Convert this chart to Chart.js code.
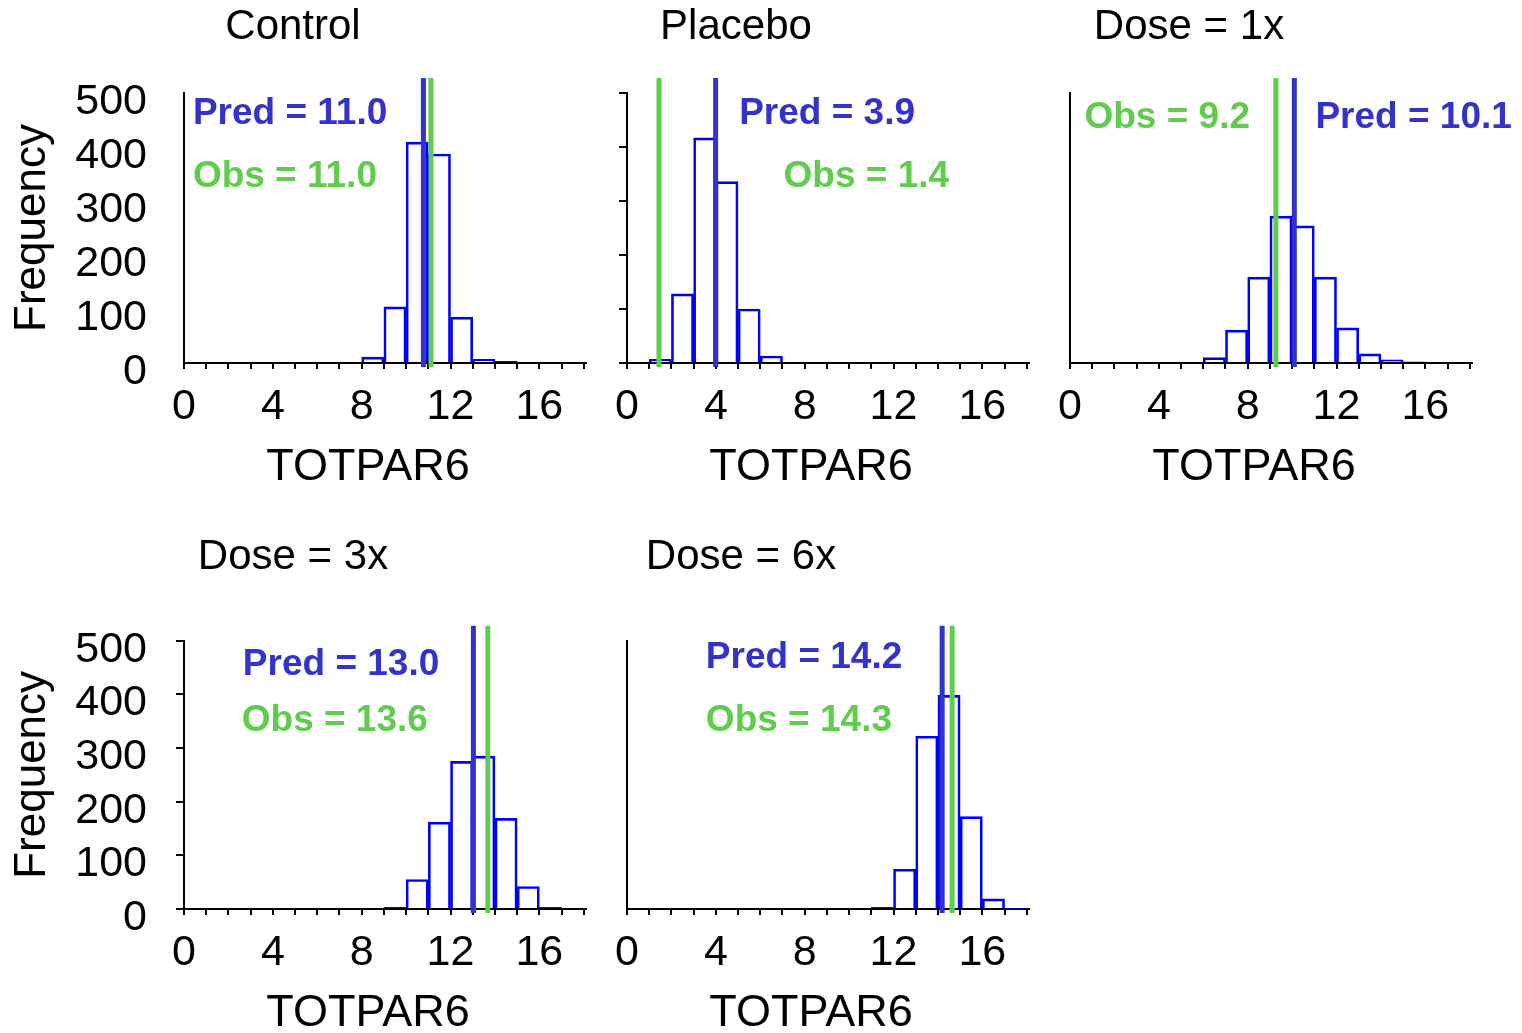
<!DOCTYPE html>
<html>
<head>
<meta charset="utf-8">
<title>TOTPAR6 predictive check</title>
<script src="https://cdn.jsdelivr.net/npm/chart.js@4.4.0/dist/chart.umd.min.js"></script>
<style>
  html, body { margin: 0; padding: 0; background: #fff; overflow: hidden; }
  #wrap { position: relative; width: 1522px; height: 1033px; }
  #wrap canvas { position: absolute; }
</style>
</head>
<body>
<div id="wrap"></div>
<script>
// Panel titles
const panelTitles = ['Control', 'Placebo', 'Dose = 1x', 'Dose = 3x', 'Dose = 6x'];

// Histogram bins (lower edge of each 1-unit bin) and counts
const controlBins = [8, 9, 10, 11, 12, 13, 14];
const controlFreq = [11, 104, 409, 387, 85, 7, 3];
const placeboBins = [1, 2, 3, 4, 5, 6];
const placeboFreq = [7, 128, 417, 336, 100, 13];
const dose1Bins = [6, 7, 8, 9, 10, 11, 12, 13, 14, 15];
const dose1Freq = [10, 61, 159, 272, 254, 159, 65, 17, 6, 2];
const dose3Bins = [9, 10, 11, 12, 13, 14, 15, 16];
const dose3Freq = [3, 55, 162, 275, 285, 169, 42, 3];
const dose6Bins = [11, 12, 13, 14, 15, 16, 17];
const dose6Freq = [3, 74, 322, 398, 172, 19, 1];

// Predicted / observed means (labels) and where their lines sit on the axis
const predValues = [11.0, 3.9, 10.1, 13.0, 14.2];
const obsValues = [11.0, 1.4, 9.2, 13.6, 14.3];
const predLines = [10.78, 3.99, 10.1, 13.03, 14.19];
const obsLines = [11.12, 1.44, 9.27, 13.68, 14.64];

// Tick labels
const xTickLabels = [0, 4, 8, 12, 16];
const yTickLabels = [0, 100, 200, 300, 400, 500];

const allBins = [controlBins, placeboBins, dose1Bins, dose3Bins, dose6Bins];
const allFreq = [controlFreq, placeboFreq, dose1Freq, dose3Freq, dose6Freq];

const BLUE = '#3333cc';
const GREEN = '#5fcc4b';
const FONT = '"Liberation Sans", Arial, Helvetica, sans-serif';

Chart.defaults.font.family = FONT;
Chart.defaults.color = '#000';

// rows: canvas top, canvas height, gap under title
const rows = [
  { top: 0, height: 500, titleGap: 40.6 },
  { top: 530, height: 516, titleGap: 58.3 }
];

// per panel layout + label placement (in data units)
const panels = [
  { col: 0, row: 0, padLeft: 0, yLabels: true, yTicks: false,
    predAt: [0.4, 462], obsAt: [0.4, 344] },
  { col: 1, row: 0, padLeft: 0, yLabels: false, yTicks: true,
    predAt: [5.05, 462], obsAt: [7.05, 344] },
  { col: 2, row: 0, padLeft: 20, yLabels: false, yTicks: false,
    predAt: [11.05, 455], obsAt: [0.65, 455] },
  { col: 0, row: 1, padLeft: 0, yLabels: true, yTicks: true,
    predAt: [2.65, 456], obsAt: [2.6, 350] },
  { col: 1, row: 1, padLeft: 10, yLabels: false, yTicks: false,
    predAt: [3.55, 468], obsAt: [3.55, 351] }
];

// draws the Pred/Obs lines, their labels and the x axis title
const markerPlugin = {
  id: 'markers',
  afterDatasetsDraw(chart, args, opts) {
    const { ctx, chartArea, scales } = chart;
    const xs = scales.x, ys = scales.y;
    ctx.save();
    ctx.lineWidth = 5;
    [[opts.predLine, BLUE], [opts.obsLine, GREEN]].forEach(([v, c]) => {
      const px = xs.getPixelForValue(v);
      ctx.strokeStyle = c;
      ctx.beginPath();
      ctx.moveTo(px, chartArea.top - 15);
      ctx.lineTo(px, chartArea.bottom + 4);
      ctx.stroke();
    });

    ctx.font = 'bold 37px ' + FONT;
    ctx.textBaseline = 'middle';
    ctx.textAlign = 'left';
    ctx.fillStyle = BLUE;
    ctx.fillText('Pred = ' + opts.pred.toFixed(1), xs.getPixelForValue(opts.predAt[0]), ys.getPixelForValue(opts.predAt[1]));
    ctx.fillStyle = GREEN;
    ctx.fillText('Obs = ' + opts.obs.toFixed(1), xs.getPixelForValue(opts.obsAt[0]), ys.getPixelForValue(opts.obsAt[1]));

    ctx.font = '45px ' + FONT;
    ctx.fillStyle = '#000';
    ctx.textAlign = 'center';
    ctx.fillText('TOTPAR6', (chartArea.left + chartArea.right) / 2 - 17, chartArea.bottom + 105);
    ctx.restore();
  }
};

const wrap = document.getElementById('wrap');

panels.forEach((p, i) => {
  const row = rows[p.row];
  const canvas = document.createElement('canvas');
  canvas.width = 636;
  canvas.height = row.height;
  canvas.style.left = (p.col * 443) + 'px';
  canvas.style.top = row.top + 'px';
  wrap.appendChild(canvas);

  const points = allBins[i].map((b, k) => ({ x: b + 0.5, y: allFreq[i][k] }));

  new Chart(canvas, {
    type: 'bar',
    data: {
      datasets: [{
        data: points,
        backgroundColor: 'rgba(255,255,255,0)',
        borderColor: '#0000ff',
        borderWidth: 2,
        barPercentage: 1,
        categoryPercentage: 1
      }]
    },
    options: {
      responsive: false,
      animation: false,
      layout: { padding: { left: p.padLeft, right: 50, top: 0, bottom: 0 } },
      plugins: {
        legend: { display: false },
        tooltip: { enabled: false },
        title: {
          display: true,
          text: panelTitles[i],
          color: '#000',
          font: { size: 42, weight: 'normal' },
          padding: { top: 2, bottom: row.titleGap }
        },
        markers: {
          pred: predValues[i],
          obs: obsValues[i],
          predLine: predLines[i],
          obsLine: obsLines[i],
          predAt: p.predAt,
          obsAt: p.obsAt
        }
      },
      scales: {
        x: {
          type: 'linear',
          min: 0,
          max: 18.1,
          offset: false,
          grid: { offset: false, drawOnChartArea: false, drawTicks: true, tickLength: 6, lineWidth: 2, color: '#000' },
          border: { display: true, color: '#000', width: 2 },
          ticks: {
            stepSize: 1,
            autoSkip: false,
            includeBounds: false,
            maxTicksLimit: 40,
            maxRotation: 0,
            padding: 12,
            color: '#000',
            font: { size: 43 },
            callback: v => xTickLabels.includes(v) ? String(v) : ''
          },
          afterFit: s => { s.height = 137; }
        },
        y: {
          min: 0,
          max: 500,
          grid: { drawOnChartArea: false, drawTicks: true, tickLength: 8, lineWidth: 2, color: p.yTicks ? '#000' : 'rgba(0,0,0,0)' },
          border: { display: true, color: '#000', width: 2 },
          ticks: {
            stepSize: 100,
            autoSkip: false,
            display: p.yLabels,
            padding: 29,
            labelOffset: 9,
            color: '#000',
            font: { size: 43 },
            callback: v => yTickLabels.includes(v) ? String(v) : ''
          },
          title: {
            display: p.yLabels,
            text: 'Frequency',
            color: '#000',
            font: { size: 44 },
            padding: { top: 6, bottom: 0 }
          },
          afterFit: s => { s.width = 184 - p.padLeft; }
        }
      }
    },
    plugins: [markerPlugin]
  });
});
</script>
</body>
</html>
